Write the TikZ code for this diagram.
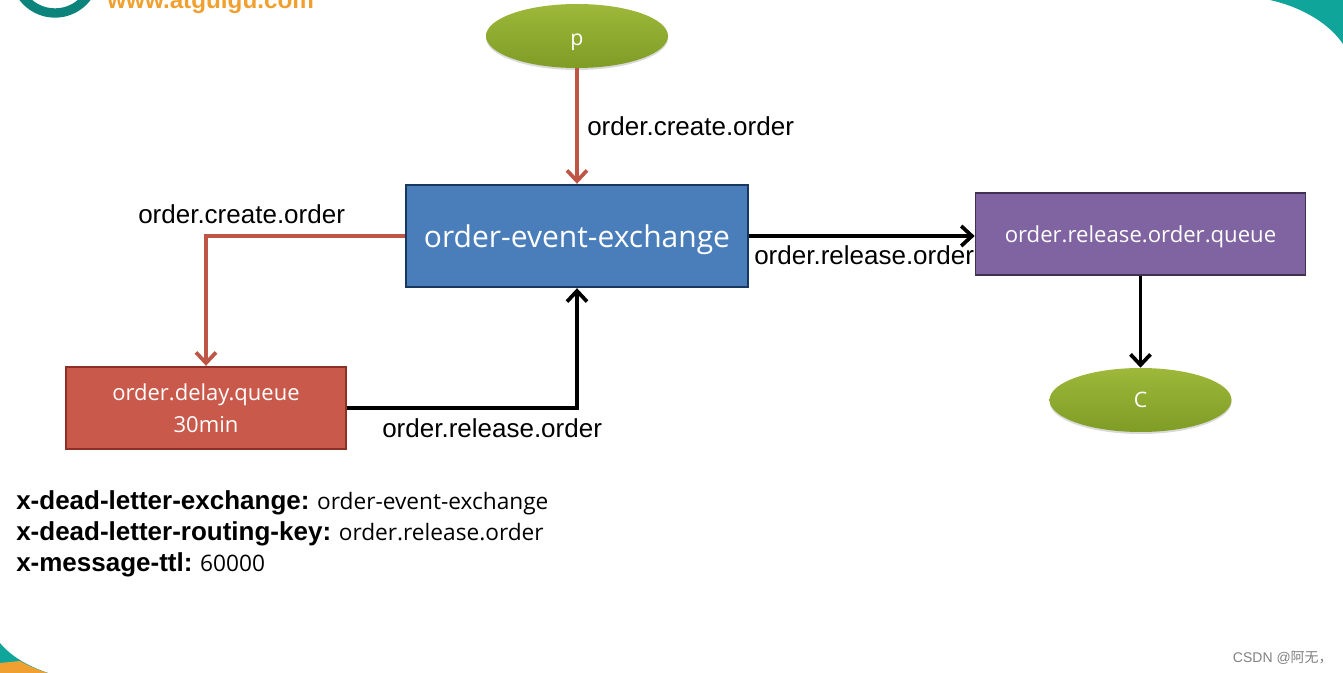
\documentclass[tikz,border=0pt]{standalone}
\usepackage{xcolor}
\usepackage{fontspec}
\usetikzlibrary{arrows.meta,positioning,shapes.geometric,shadows}
\setmainfont{Liberation Sans}
\newfontfamily\boxfont{Open Sans}
\newfontfamily\cjkfont{Noto Sans CJK SC}
\newcommand{\argvalue}[1]{\hspace{-1.5pt}\mdseries\boxfont\fontsize{17}{20}\selectfont #1}
\definecolor{bluebox}{HTML}{4A7EBB}
\definecolor{blueline}{HTML}{17375E}
\definecolor{redbox}{HTML}{C9594A}
\definecolor{redline}{HTML}{8C2F25}
\definecolor{redarrow}{HTML}{BE5546}
\definecolor{purplebox}{HTML}{8064A2}
\definecolor{purpleline}{HTML}{403152}
\definecolor{greenlight}{HTML}{9DB83A}
\definecolor{greendark}{HTML}{7F9C25}
\definecolor{tealcorner}{HTML}{0FA59B}
\definecolor{orangelogo}{HTML}{F0A030}

\begin{document}
\begin{tikzpicture}[
   x=0.75pt, y=-0.75pt,
   queuebox/.style={draw, line width=1.3pt, text=white, font=\boxfont, align=center, inner sep=0pt},
   client/.style={ellipse, minimum width=136.5pt, minimum height=48pt, inner sep=0pt,
      text depth=0pt,
      top color=greenlight, bottom color=greendark, text=white, font=\boxfont\fontsize{16}{18}\selectfont,
      drop shadow={shadow xshift=0pt, shadow yshift=-1.5pt, opacity=0.3}},
   keyline/.style={line width=2.8pt, -{Straight Barb[length=8pt,width=15pt]}},
   keylabel/.style={inner sep=0pt, font=\fontsize{19.5}{22}\selectfont},
   arg/.style={inner sep=0pt, anchor=base west, font=\fontsize{19.5}{22}\selectfont\bfseries}
]
\clip (0,0) rectangle (1343,673);
\useasboundingbox (0,0) rectangle (1343,673);

% corners of the slide
\fill[tealcorner] (1270,0) .. controls (1305,8) and (1330,25) .. (1343,44) -- (1343,0) -- cycle;
\fill[tealcorner] (0,643) .. controls (10,655) and (25,665) .. (48,673) -- (0,673) -- cycle;
\fill[orangelogo] (0,663) -- (20,661) .. controls (27,665) and (35,669) .. (48,673) -- (0,673) -- cycle;
\draw[tealcorner!80!black, line width=7pt] (55,-27) circle (40);
\node[keylabel, anchor=base west, text=orangelogo, font=\fontsize{18.2}{20}\selectfont\bfseries] (logo) at (107,9) {www.atguigu.com};

% boxes
\node[queuebox, draw=blueline, fill=bluebox, minimum width=257pt, minimum height=77pt,
      font=\boxfont\fontsize{22.5}{26}\selectfont, text height=23pt] (exchange) at (577,236) {order-event-exchange};
\node[queuebox, draw=purpleline, fill=purplebox, minimum width=247.5pt, minimum height=62pt,
      font=\boxfont\fontsize{16.6}{20}\selectfont, text height=17pt] (releasequeue) at (1140.5,234) {order.release.order.queue};
\node[queuebox, draw=redline, fill=redbox, minimum width=210pt, minimum height=62pt,
      font=\boxfont\fontsize{16.5}{24}\selectfont] (delayqueue) at (206,408) {order.delay.queue\\30min};
\node[client, text height=2.7ex] (p) at (577,36) {p};
\node[client, text height=2.2ex] (c) at (1140.5,400) {C};

% arrows
\draw[keyline, redarrow] (p) -- (exchange);
\draw[keyline, redarrow] (exchange.west) -| (delayqueue.north);
\draw[keyline, black] (delayqueue.east) -| (exchange.south);
\draw[keyline, black] (exchange.east) -- (exchange.east -| releasequeue.west);
\draw[keyline, black] (releasequeue) -- (c);

% labels
\node[keylabel, anchor=base west] (createlabel) at (587,136) {order.create.order};
\node[keylabel, anchor=base west] (delaylabel) at (138,224) {order.create.order};
\node[keylabel, anchor=base west] (releaselabel) at (754,265) {order.release.order};
\node[keylabel, anchor=base west] (backlabel) at (382,438) {order.release.order};

% queue arguments
\node[arg] (dlx) at (16,509) {x-dead-letter-exchange: \argvalue{order-event-exchange}};
\node[arg] (dlk) at (16,541) {x-dead-letter-routing-key: \argvalue{order.release.order}};
\node[arg] (ttl) at (16,571) {x-message-ttl: \argvalue{60000}};

\node[inner sep=0pt, anchor=base east, text=black!50, font=\fontsize{10.5}{12}\selectfont] (csdn) at (1333,662) {CSDN @{\cjkfont 阿无，}};
\end{tikzpicture}
\end{document}
